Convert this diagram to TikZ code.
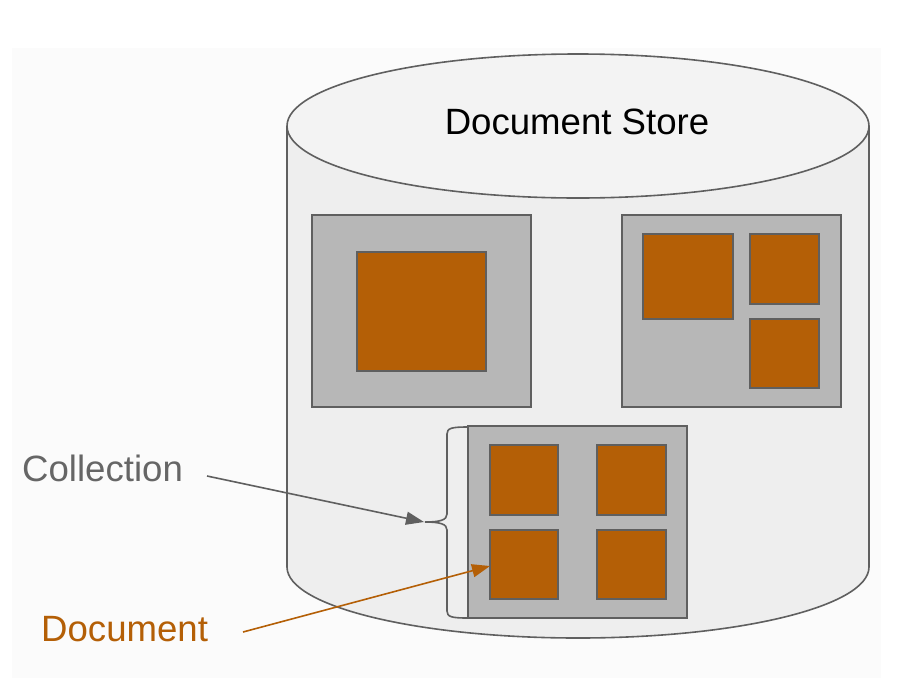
\documentclass[tikz,border=0pt]{standalone}
\usepackage{fontspec}
\setmainfont{Liberation Sans}
\usetikzlibrary{arrows.meta}
\definecolor{strokegray}{HTML}{5F5F5F}
\definecolor{collfill}{HTML}{B7B7B7}
\definecolor{docorange}{HTML}{B45F06}
\definecolor{bodyfill}{HTML}{EEEEEE}
\definecolor{topfill}{HTML}{F3F3F3}
\definecolor{pagebg}{HTML}{FBFBFB}
\definecolor{labelgray}{HTML}{666666}
\begin{document}
\begin{tikzpicture}[x=1pt,y=-1pt,
  collbox/.style={draw=strokegray,fill=collfill,line width=1.6pt},
  docbox/.style={draw=strokegray,fill=docorange,line width=1.6pt},
  bigtext/.style={font=\fontsize{36.6}{44}\selectfont,inner sep=0pt},
  pointer/.style={line width=1.6pt,-{Triangle[length=18pt,width=13pt]}}]
\useasboundingbox[fill=white] (0,0) rectangle (905,678);
\fill[pagebg] (12,48) rectangle (881,678);
% cylinder body
\draw[strokegray,fill=bodyfill,line width=1.6pt]
  (287,126) -- (287,567) arc[start angle=180,end angle=360,x radius=291pt,y radius=71pt] -- (869,126);
% cylinder top
\draw[strokegray,fill=topfill,line width=1.6pt] (578,126) ellipse[x radius=291pt,y radius=72pt];
\node[bigtext,anchor=base] (store) at (577,134) {Document Store};
% collections
\draw[collbox] (312,215) rectangle (531,407);
\draw[docbox] (357,252) rectangle (486,371);
\draw[collbox] (622,215) rectangle (841,407);
\draw[docbox] (643,234) rectangle (733,319);
\draw[docbox] (750,234) rectangle (819,304);
\draw[docbox] (750,319) rectangle (819,388);
\draw[collbox] (468,426) rectangle (687,618);
\draw[docbox] (490,445) rectangle (558,515);
\draw[docbox] (597,445) rectangle (666,515);
\draw[docbox] (490,530) rectangle (558,599);
\draw[docbox] (597,530) rectangle (666,599);
\node[inner sep=0pt] (target) at (490,566) {};
% brace
\draw[strokegray,line width=1.6pt]
  (468,427) .. controls (452,427) and (447,428) .. (447,434) -- (447,514)
  .. controls (447,520) and (440,522) .. (425,522)
  .. controls (440,522) and (447,524) .. (447,530) -- (447,611)
  .. controls (447,617) and (452,618) .. (468,618);
\coordinate (bracetip) at (424,522);
% labels
\node[bigtext,anchor=base west,text=labelgray] (colllabel) at (22,481) {Collection};
\node[bigtext,anchor=base west,text=docorange] (doclabel) at (41,641) {Document};
\coordinate (collstart) at (207,476);
\coordinate (docstart) at (243,632);
\draw[pointer,strokegray] (collstart) -- (bracetip);
\draw[pointer,docorange] (docstart) -- (target.center);
\end{tikzpicture}
\end{document}
